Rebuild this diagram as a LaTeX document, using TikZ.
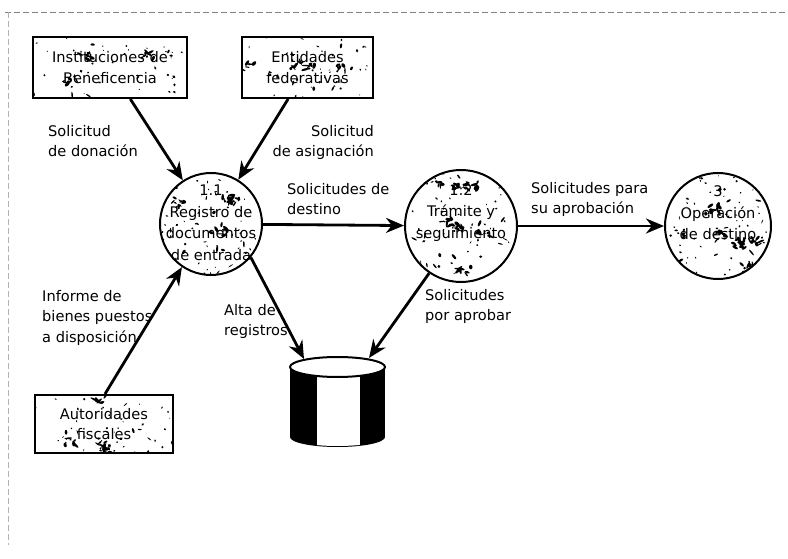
\documentclass[tikz,border=0pt]{standalone}
\usepackage{fontspec}
\setmainfont{DejaVu Sans}
\usetikzlibrary{arrows.meta,backgrounds}

% a patch of overlapping flecks around a point
\newcommand\fleckpatch[2]{%
  \foreach \j in {1,...,8}{
    \fill[black,shift={({#1+7*(2*rnd-1)},{#2+4*(2*rnd-1)})},rotate={360*rnd}]
      (0,0) ellipse [x radius={1+3*rnd}, y radius={0.6+1.2*rnd}];
  }}
% mottled fill used inside the shapes
\newcommand\graincircle[4]{%
  \begin{scope}
    \clip (#1,#2) circle [radius=#3];
    \foreach \k in {1,...,70}{
      \fill[black,shift={({#1+#3*(2*rnd-1)},{#2+#3*(2*rnd-1)})},rotate={360*rnd}]
        (0,0) ellipse [x radius={0.5+3.5*rnd*rnd}, y radius={0.4+1.1*rnd}];
    }
    \foreach \k in {1,...,#4}{
      \pgfmathsetmacro\px{#1+0.8*#3*(2*rnd-1)}
      \pgfmathsetmacro\py{#2+0.8*#3*(2*rnd-1)}
      \fleckpatch{\px}{\py}
    }
  \end{scope}}
\newcommand\grainbox[5]{%
  \begin{scope}
    \clip (#1,#2) rectangle (#3,#4);
    \foreach \k in {1,...,45}{
      \fill[black,shift={({#1+(#3-#1)*rnd},{#2+(#4-#2)*rnd})},rotate={360*rnd}]
        (0,0) ellipse [x radius={0.5+3*rnd*rnd}, y radius={0.4+1.0*rnd}];
    }
    \foreach \k in {1,...,#5}{
      \pgfmathsetmacro\px{#1+(#3-#1)*rnd}
      \pgfmathsetmacro\py{#2+(#4-#2)*rnd}
      \fleckpatch{\px}{\py}
    }
  \end{scope}}

\begin{document}
\begin{tikzpicture}[x=1pt,y=-1pt,
  txt/.style={font=\fontsize{14.6}{20.5}\selectfont},
  ext/.style={draw,line width=2pt,align=center,txt,inner sep=0pt},
  proc/.style={circle,draw,line width=2pt,inner sep=0pt},
  intext/.style={align=center,inner sep=0pt,font=\fontsize{14.6}{21.5}\selectfont},
  flow/.style={line width=2.8pt,-{Stealth[length=18pt,width=15pt]}},
  lbl/.style={align=left,anchor=north west,inner sep=0pt,txt},
  frame/.style={gray,line width=0.6pt,dash pattern=on 6pt off 3pt},
]
\useasboundingbox (0,0) rectangle (788,559);
\pgfmathsetseed{4711}

% page frame
\draw[frame] (5,12) -- (788,12);
\draw[frame,gray!60] (8,12) -- (8,545);

% external entities
\node[ext,minimum width=154pt,minimum height=61pt] (b1) at (110,67.5) {Instituciones de\\Beneficencia};
\node[ext,minimum width=131pt,minimum height=61pt] (b2) at (307.5,67.5) {Entidades\\federativas};
\node[ext,minimum width=138pt,minimum height=58pt] (b3) at (104,424) {Autoridades\\fiscales};

% processes
\node[proc,minimum size=102pt,label={[intext,yshift=1pt]center:1.1\\Registro de\\documentos\\de entrada}] (p11) at (211,224) {};
\node[proc,minimum size=112pt,label={[intext,yshift=13pt]center:1:2\\Trámite y\\seguimiento}] (p12) at (461,226) {};
\node[proc,minimum size=106pt,label={[intext,yshift=13pt]center:3\\Operación\\de destino}] (p3) at (718,226) {};

% paper and mottled fills behind the shapes
\begin{scope}[on background layer]
  \fill[white] (0,0) rectangle (788,559);
  \grainbox{33}{37}{187}{98}{3}
  \grainbox{242}{37}{373}{98}{4}
  \grainbox{35}{395}{173}{453}{4}
  \graincircle{211}{224}{51}{4}
  \graincircle{461}{226}{56}{7}
  \graincircle{718}{226}{53}{7}
\end{scope}

% data store
\node[minimum width=95pt,minimum height=90pt,inner sep=0pt] (db) at (337.5,402) {};
\fill[black] (290,367) rectangle (385,437);
\fill[black] (337.5,437) ellipse [x radius=47.5, y radius=10];
\fill[white] (317,372) rectangle (360,437);
\begin{scope}
  \clip (337.5,437) ellipse [x radius=47.5, y radius=9];
  \fill[white] (317,430) rectangle (360,450);
\end{scope}
\draw[line width=2pt,fill=white] (337.5,367) ellipse [x radius=47.5, y radius=10];
\coordinate (dbin1) at (304,359);
\coordinate (dbin2) at (369,358);

% data flows
\draw[flow] (b1) -- (p11);
\draw[flow] (b2) -- (p11);
\draw[flow] ([xshift=1pt]b3.north) -- (p11.236);
\draw[flow] (p11) -- (p12);
\draw[flow] (p12) -- (p3);
\draw[flow] (p11.-40) -- (dbin1);
\draw[flow] (p12.236) -- (dbin2);

% flow labels
\node[lbl] (l1) at (48,125) {Solicitud\\de donación};
\node[lbl,anchor=north east,align=right] (l2) at (374,125) {Solicitud\\de asignación};
\node[lbl] (l3) at (287,183) {Solicitudes de\\destino};
\node[lbl] (l4) at (531,182) {Solicitudes para\\su aprobación};
\node[lbl] (l5) at (42,290) {Informe de\\bienes puestos\\a disposición};
\node[lbl] (l6) at (224,304) {Alta de\\registros};
\node[lbl] (l7) at (425,289) {Solicitudes\\por aprobar};
\end{tikzpicture}
\end{document}
